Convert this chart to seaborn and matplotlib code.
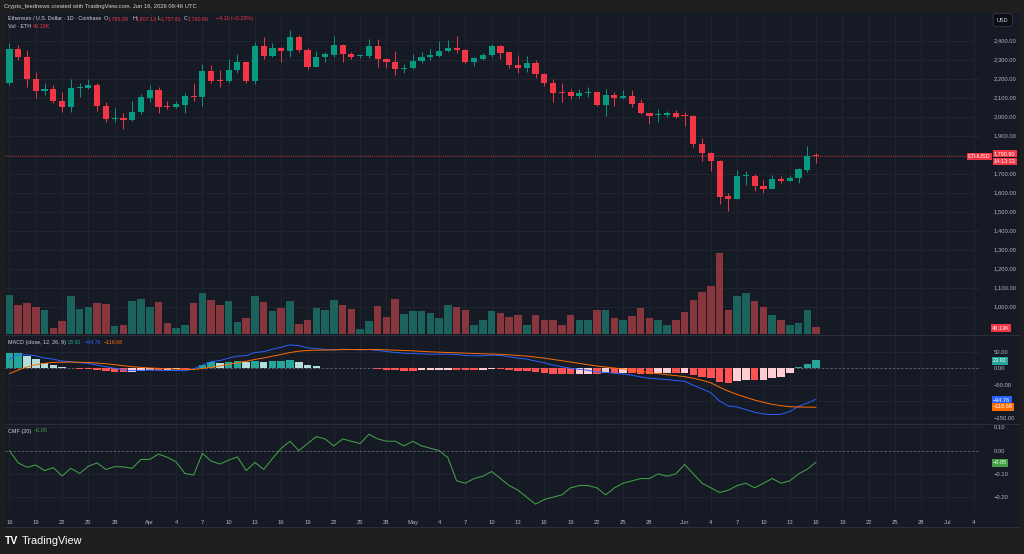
import matplotlib
matplotlib.use("Agg")
import matplotlib.pyplot as plt
from matplotlib.patches import Rectangle
import seaborn as sns
import pandas as pd
import numpy as np

# ---- data ----
start_date = "2026-03-16"

opens = [2176, 2355, 2316, 2200, 2137, 2144, 2083, 2053, 2150, 2153,
         2165, 2056, 1988, 1993, 1981, 2023, 2100, 2140, 2057, 2051,
         2063, 2110, 2105, 2241, 2192, 2188, 2245, 2286, 2189, 2372,
         2321, 2362, 2347, 2421, 2351, 2263, 2313, 2325, 2377, 2330,
         2318, 2319, 2372, 2304, 2290, 2253, 2255, 2293, 2316, 2319,
         2346, 2360, 2351, 2288, 2304, 2325, 2372, 2339, 2272, 2255,
         2284, 2223, 2179, 2128, 2128, 2111, 2126, 2132, 2062, 2114,
         2097, 2111, 2070, 2019, 2007, 2009, 2021, 2004, 2004, 1856,
         1807, 1767, 1583, 1565, 1686, 1688, 1635, 1618, 1672, 1662,
         1679, 1719, 1795.00]
highs = [2386, 2377, 2351, 2234, 2179, 2167, 2128, 2197, 2176, 2197,
         2176, 2076, 2044, 2018, 2084, 2119, 2167, 2158, 2083, 2083,
         2123, 2176, 2276, 2272, 2246, 2302, 2330, 2289, 2392, 2418,
         2386, 2368, 2456, 2430, 2360, 2346, 2339, 2425, 2383, 2339,
         2323, 2407, 2407, 2307, 2346, 2277, 2330, 2342, 2356, 2398,
         2404, 2425, 2355, 2316, 2334, 2383, 2377, 2342, 2325, 2319,
         2298, 2228, 2197, 2179, 2144, 2144, 2155, 2137, 2144, 2128,
         2139, 2139, 2092, 2021, 2040, 2030, 2035, 2026, 2009, 1889,
         1816, 1772, 1600, 1720, 1714, 1697, 1667, 1693, 1688, 1693,
         1732, 1846, 1807.13]
lows = [2167, 2298, 2155, 2098, 2114, 2070, 2026, 2023, 2105, 2144,
        2032, 1974, 1974, 1935, 1977, 2013, 2079, 2018, 2040, 2044,
        2021, 2084, 2058, 2176, 2158, 2179, 2232, 2176, 2172, 2305,
        2313, 2286, 2316, 2342, 2251, 2260, 2286, 2316, 2286, 2302,
        2307, 2307, 2263, 2258, 2219, 2232, 2251, 2284, 2298, 2313,
        2342, 2337, 2281, 2268, 2298, 2316, 2302, 2255, 2232, 2237,
        2202, 2163, 2079, 2079, 2092, 2100, 2105, 2056, 2005, 2056,
        2092, 2049, 2013, 1962, 1974, 2000, 1992, 1953, 1839, 1767,
        1714, 1540, 1505, 1565, 1640, 1611, 1600, 1618, 1649, 1660,
        1649, 1707, 1757.61]
closes = [2355, 2316, 2200, 2137, 2144, 2083, 2053, 2153, 2155, 2165,
          2056, 1990, 1992, 1981, 2025, 2102, 2140, 2053, 2052, 2065,
          2110, 2105, 2241, 2189, 2189, 2247, 2286, 2189, 2372, 2321,
          2360, 2347, 2421, 2351, 2263, 2316, 2328, 2377, 2330, 2316,
          2321, 2372, 2302, 2288, 2249, 2256, 2295, 2316, 2325, 2346,
          2360, 2351, 2286, 2307, 2325, 2372, 2337, 2272, 2255, 2284,
          2223, 2179, 2126, 2126, 2111, 2126, 2130, 2062, 2114, 2097,
          2111, 2067, 2021, 2004, 2010, 2021, 2000, 2002, 1855, 1807,
          1767, 1579, 1565, 1688, 1688, 1635, 1618, 1672, 1662, 1679,
          1725, 1795, 1790.90]
volume_k = [225, 166, 178, 153, 139, 33, 75, 216, 142, 153,
            176, 172, 44, 52, 187, 201, 155, 182, 61, 33,
            53, 178, 235, 193, 168, 187, 71, 90, 216, 185,
            130, 149, 191, 57, 79, 149, 139, 195, 166, 143,
            30, 76, 161, 99, 202, 113, 132, 132, 120, 92,
            166, 155, 138, 52, 80, 132, 120, 97, 109, 52,
            109, 80, 80, 52, 109, 80, 80, 138, 138, 92,
            80, 103, 149, 92, 80, 52, 80, 126, 195, 241,
            275, 464, 138, 218, 235, 189, 155, 109, 80, 52,
            63, 138, 40.13]

macd = [27, 40, 40, 37, 30, 27, 21, 19, 16, 14,
        9, 4, -1, -6, -8, -7, -6, -7, -7.5, -7.5,
        -8.5, -3, 9, 19.5, 22.5, 30, 36, 37.5, 47, 49.5,
        57, 63, 70, 68, 61, 59, 56, 55, 57, 56,
        55, 56, 53, 50, 47, 45, 44, 43, 42, 42,
        42, 41, 38, 37, 37, 39, 38, 34, 30, 27,
        21, 16, 9, 4, -1, -4, -7, -12, -13, -16,
        -18, -22, -27, -31, -33, -35, -38, -40, -52, -63,
        -75, -100, -115, -118, -126, -134, -139, -141, -140, -132,
        -116, -106, -94.76]
signal = [-17, -6, 3.5, 10, 14, 17, 17.5, 18, 17.5, 17,
          15, 13, 10, 7, 4, 2, 0, -1, -2.5, -3.5,
          -4.5, -4.5, -1.5, 2.5, 6.5, 11, 16, 20.5, 26, 30.5,
          36, 41, 47, 51, 53, 54, 54.5, 55, 55.5, 56,
          56, 56, 56, 55, 54, 53, 52, 50.5, 49, 48,
          47, 46, 45, 44, 43, 42.5, 41.5, 40, 38, 36,
          33, 30, 26, 22, 18, 14, 10, 6, 3, 0,
          -3, -6, -10, -14, -17, -20, -23, -26, -31, -37,
          -45, -58, -70, -80, -89, -97, -104, -110, -114, -117,
          -118, -118.5, -118.68]
hist = [44, 46, 37, 27, 16, 10, 3, 1, -1.5, -3,
        -6, -9, -11, -13, -12, -9, -6, -6, -5, -4,
        -4, 1.5, 10.5, 17, 16, 19, 20, 17, 21, 19,
        21, 22, 23, 17, 8, 5, 1.5, 0, 1.5, 0,
        -1, 0, -3, -5, -7, -8, -8, -7.5, -7, -6,
        -5, -5, -7, -7, -6, -3.5, -3.5, -6, -8, -9,
        -12, -14, -17, -18, -19, -18, -17, -18, -16, -16,
        -15, -16, -17, -17, -16, -15, -15, -14, -21, -26,
        -30, -42, -45, -38, -37, -37, -35, -31, -26, -15,
        2, 12.5, 23.92]
cmf = [0.0, -0.053, -0.072, -0.062, -0.086, -0.073, -0.109, -0.076, -0.098, -0.067,
       -0.053, -0.081, -0.069, -0.07, -0.076, -0.038, -0.038, -0.015, -0.029, -0.048,
       -0.098, -0.105, -0.012, -0.045, -0.058, -0.041, -0.027, -0.086, -0.051, -0.081,
       -0.034, 0.01, 0.04, 0.0, 0.03, 0.06, 0.05, 0.02, 0.05, 0.04,
       0.03, 0.07, 0.05, 0.04, 0.04, 0.02, 0.04, 0.02, 0.01, 0.0,
       -0.03, -0.13, -0.14, -0.12, -0.11, -0.09, -0.12, -0.15, -0.17, -0.2,
       -0.23, -0.21, -0.2, -0.19, -0.16, -0.15, -0.15, -0.16, -0.19, -0.16,
       -0.14, -0.13, -0.12, -0.12, -0.1, -0.11, -0.1, -0.06, -0.1, -0.14,
       -0.16, -0.18, -0.17, -0.15, -0.14, -0.16, -0.14, -0.12, -0.14, -0.13,
       -0.1, -0.08, -0.05]

price_ticks = [1000, 1100, 1200, 1300, 1400, 1500, 1600, 1700, 1800, 1900,
               2000, 2100, 2200, 2300, 2400]
macd_ticks = [100, 50, 0, -50, -100, -150]
cmf_ticks = [0.1, 0.0, -0.1, -0.2]

# ---- style ----
W, H = 1024, 554
OUTER = "#1e1e1e"
BG = "#161a25"
GRID = "#222631"
TXT = "#b2b5be"
HEAD = "#d1d4dc"
UP = "#089981"
DOWN = "#f23645"
VOL_UP = "#1b625c"
VOL_DOWN = "#87363d"

sns.set_style("dark", {"axes.facecolor": BG, "figure.facecolor": OUTER})
plt.rcParams["font.family"] = ["Liberation Sans", "DejaVu Sans"]
plt.rcParams["patch.force_edgecolor"] = False

df = pd.DataFrame({"date": pd.date_range(start_date, periods=len(closes)),
                   "open": opens, "high": highs, "low": lows, "close": closes,
                   "vol": volume_k, "macd": macd, "signal": signal,
                   "hist": hist, "cmf": cmf})
df["day"] = (df["date"] - df["date"].iloc[0]).dt.days
up = df["close"] >= df["open"]

# date ticks: 1st of each month (month name) then every 3 days from the 4th
t0 = df["date"].iloc[0]
tick_x, tick_lab = [], []
for d in pd.date_range(start_date, "2026-07-04"):
    if d.day == 1 or (d.day >= 4 and (d.day - 1) % 3 == 0 and d.day <= 28):
        tick_x.append((d - t0).days)
        tick_lab.append(d.strftime("%b") if d.day == 1 else str(d.day))

fig = plt.figure(figsize=(W / 100, H / 100), dpi=100, facecolor=OUTER)


def rect(x0, y0, x1, y1):
    return [x0 / W, 1 - y1 / H, (x1 - x0) / W, (y1 - y0) / H]


def fx(x):
    return x / W


def fy(y):
    return 1 - y / H


fig.patches.append(Rectangle((fx(5), fy(527)), (1020 - 5) / W, (527 - 13) / H,
                             transform=fig.transFigure, facecolor=BG,
                             edgecolor="none", zorder=-5))

XLIM = (-0.51, 110.7)
ax_p = fig.add_axes(rect(5, 13, 980, 334))
ax_m = fig.add_axes(rect(5, 335, 980, 423), sharex=ax_p)
ax_c = fig.add_axes(rect(5, 424, 980, 510), sharex=ax_p)
# volume overlay on top of the price pane (transparent)
ax_v = fig.add_axes(rect(5, 13, 980, 334), sharex=ax_p)
ax_v.set_zorder(2)
ax_v.patch.set_visible(False)

for ax in (ax_p, ax_m, ax_c):
    ax.set_facecolor(BG)
    for s in ax.spines.values():
        s.set_visible(False)
    ax.yaxis.tick_right()
    ax.tick_params(axis="y", length=0, pad=10, labelsize=4.2, labelcolor=TXT)
    ax.tick_params(axis="x", length=0, labelsize=4.2, labelcolor=TXT)
    ax.set_xticks(tick_x)
    ax.grid(True, color=GRID, linewidth=0.6)
    ax.set_axisbelow(True)
    ax.set_xlim(*XLIM)
for ax in (ax_p, ax_m):
    plt.setp(ax.get_xticklabels(), visible=False)
ax_c.set_xticklabels(tick_lab)
ax_c.tick_params(axis="x", pad=7)

# ---- volume ----
ax_v.bar(df["day"], df["vol"], width=0.86,
         color=np.where(up, VOL_UP, VOL_DOWN), edgecolor="none", linewidth=0)
ax_v.set_ylim(0, 1840)
ax_v.set_yticks([])
ax_v.tick_params(axis="x", length=0, labelbottom=False)
ax_v.grid(False)
for s in ax_v.spines.values():
    s.set_visible(False)
ax_v.set_xlim(*XLIM)

# ---- candles ----
body_lo = np.minimum(df["open"], df["close"])
body_h = np.maximum((df["close"] - df["open"]).abs(), 6)  # doji: ~1px body
ccol = np.where(up, UP, DOWN)
ax_p.vlines(df["day"], df["low"], df["high"], color=ccol, linewidth=0.7, zorder=3)
ax_p.bar(df["day"], body_h, bottom=body_lo, width=0.7, color=ccol,
         edgecolor="none", linewidth=0, zorder=4)
ax_p.set_ylim(856, 2546)
ax_p.set_yticks(price_ticks)
ax_p.set_yticklabels([f"{t:,.2f}" for t in price_ticks])
ax_p.axhline(closes[-1], color=DOWN, linewidth=0.6, linestyle=(0, (1, 1.5)), zorder=2)

# ---- MACD pane ----
hcol = []
for i, h in enumerate(hist):
    prev = hist[i - 1] if i else h
    if h >= 0:
        hcol.append("#26a69a" if h >= prev else "#b2dfdb")
    else:
        hcol.append("#ffcdd2" if h > prev else "#ff5252")
ax_m.bar(df["day"], df["hist"], width=0.86, color=hcol, edgecolor="none",
         linewidth=0, zorder=2)
sns.lineplot(x=df["day"], y=df["macd"], ax=ax_m, color="#2962ff", linewidth=0.7, zorder=3)
sns.lineplot(x=df["day"], y=df["signal"], ax=ax_m, color="#ff6d00", linewidth=0.7, zorder=3)
ax_m.axhline(0, color="#787b86", linewidth=0.5, linestyle=(0, (3, 3)), zorder=1)
ax_m.set_ylim(-166.5, 97.5)
ax_m.set_yticks(macd_ticks)
ax_m.set_yticklabels(["", "50.00", "0.00", "\u221250.00", "", "\u2212150.00"])
ax_m.set_ylabel("")
ax_m.set_xlabel("")

# ---- CMF pane ----
sns.lineplot(x=df["day"], y=df["cmf"], ax=ax_c, color="#43a047", linewidth=0.75, zorder=3)
ax_c.axhline(0, color="#787b86", linewidth=0.5, linestyle=(0, (3, 3)), zorder=1)
ax_c.set_ylim(-0.255, 0.114)
ax_c.set_yticks(cmf_ticks)
ax_c.set_yticklabels(["0.10", "0.00", "\u22120.10", "\u22120.20"])
ax_c.set_ylabel("")
ax_c.set_xlabel("")

# pane separators
for yy in (334.5, 423.5, 527):
    fig.add_artist(plt.Line2D([fx(5), fx(1020)], [fy(yy), fy(yy)],
                              transform=fig.transFigure, color="#2a2e39", linewidth=0.8))


# ---- texts ----
def txt(x, y, s, c=TXT, size=3.9, **kw):
    fig.text(fx(x), fy(y), s, color=c, fontsize=size, va="center", ha="left", **kw)


def tag(x, y, s, fc, tc="white", size=4.0):
    fig.text(fx(x), fy(y), s, color=tc, fontsize=size, va="center", ha="left",
             bbox=dict(boxstyle="square,pad=0.25", fc=fc, ec="none"))


txt(4, 6.5, "Crypto_feednews created with TradingView.com, Jun 16, 2026 09:46 UTC", HEAD, 4.2)
txt(8, 18.3, "Ethereum / U.S. Dollar \u00b7 1D \u00b7 Coinbase", HEAD)
for x, s, c in [(104, "O", HEAD), (107.5, "1,795.00", DOWN), (132.5, "H", HEAD),
                (136, "1,807.13", DOWN), (158, "L", HEAD), (161, "1,757.61", DOWN),
                (184, "C", HEAD), (187.5, "1,790.90", DOWN),
                (216.5, "\u22124.11 (\u22120.23%)", DOWN)]:
    txt(x, 18.3, s, c)
txt(8, 27, "Vol \u00b7 ETH", HEAD)
txt(33, 27, "40.13K", DOWN)
txt(8, 342.3, "MACD (close, 12, 26, 9)", HEAD)
txt(68, 342.3, "23.92", "#26a69a")
txt(85, 342.3, "\u221294.76", "#2962ff")
txt(104, 342.3, "\u2212118.68", "#ff6d00")
txt(8, 431, "CMF (20)", HEAD)
txt(34, 431, "\u22120.05", "#43a047")

# USD box
fig.text(fx(997), fy(20), "USD", color=HEAD, fontsize=4.0, va="center", ha="left",
         bbox=dict(boxstyle="round,pad=0.7,rounding_size=0.4", fc="#0c0e13", ec="#363a45", lw=0.6))
# last value tags
tag(968, 156.5, "ETHUSD", DOWN)
tag(994, 153.5, "1,790.90", DOWN)
tag(994, 161.5, "14:13:33", DOWN)
tag(992, 328, "40.13K", DOWN)
tag(993, 361, "23.92", "#26a69a")
tag(993, 400, "\u221294.76", "#2962ff")
tag(993, 407, "\u2212118.68", "#ff6d00")
tag(993, 463, "\u22120.05", "#43a047")

# TradingView logo
fig.text(fx(5), fy(540.5), "TV", color="white", fontsize=7.5, fontweight="bold",
         va="center", ha="left")
fig.text(fx(22), fy(540.5), "TradingView", color="white", fontsize=7.8,
         va="center", ha="left")

fig.savefig("out.png", dpi=100, facecolor=OUTER)
